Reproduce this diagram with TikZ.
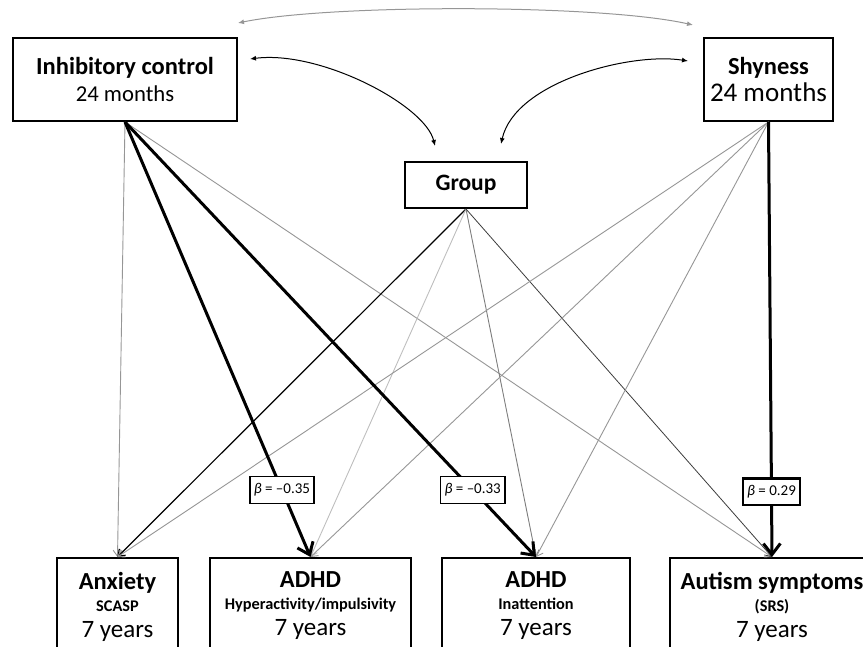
\documentclass[tikz,border=0pt]{standalone}
\usepackage{fontspec}
\setmainfont{Carlito}
\usetikzlibrary{arrows.meta,positioning}
\definecolor{pathgrey}{RGB}{150,150,150}
\definecolor{pathlight}{RGB}{190,190,190}
\definecolor{pathmid}{RGB}{125,125,125}
\definecolor{pathdark}{RGB}{60,60,60}
\tikzset{
  predbox/.style={rectangle, draw=black, line width=2pt, fill=white, align=center,
                  inner sep=0pt, font=\fontsize{24.5}{27}\selectfont},
  outbox/.style ={rectangle, draw=black, line width=2pt, fill=white, align=center,
                  anchor=north, inner xsep=0pt, inner ysep=14pt,
                  font=\fontsize{24.5}{22}\selectfont},
  gpath/.style  ={-{Straight Barb[length=6pt,width=9pt]}, line width=0.9pt, pathgrey},
  bpath/.style  ={-{Straight Barb[length=11pt,width=17pt]}, line width=3pt, black},
  betabox/.style={rectangle, draw=black, line width=1.6pt, fill=white, inner xsep=4pt,
                  inner ysep=7pt, font=\fontsize{15}{16}\selectfont},
  corr/.style   ={{Latex[length=6pt,width=5pt]}-{Latex[length=6pt,width=5pt]}, line width=1pt},
}
\newcommand{\smalllab}[1]{{\fontsize{16.3}{16}\selectfont\bfseries #1}}
\newcommand{\yearlab}[1]{{\fontsize{25}{26}\selectfont #1}}

\begin{document}
\begin{tikzpicture}[x=1pt,y=-1pt]
  \useasboundingbox (0,0) rectangle (863,647);
  \clip (0,0) rectangle (863,647);
  \node[predbox, minimum width=224pt, minimum height=83pt] (ic) at (125,79.5)
    {\textbf{Inhibitory control}\\{\fontsize{22.7}{27}\selectfont 24 months}};
  \node[predbox, minimum width=129pt, minimum height=83pt] (shy) at (768.5,79.5)
    {\textbf{Shyness}\\{\fontsize{27}{27}\selectfont 24 months}};
  \node[predbox, minimum width=122pt, minimum height=46pt, font=\fontsize{23.5}{27}\selectfont] (grp) at (466,185)
    {\textbf{Group}};
  \node[outbox, minimum width=121pt] (anx) at (117.5,557)
    {\textbf{Anxiety}\\\smalllab{SCASP}\\[4pt]\yearlab{7 years}};
  \node[outbox, minimum width=201pt] (hyp) at (310.5,557)
    {\textbf{ADHD}\\\smalllab{Hyperactivity/impulsivity}\\[4pt]\yearlab{7 years}};
  \node[outbox, minimum width=188pt] (ina) at (536,557)
    {\textbf{ADHD}\\\smalllab{Inattention}\\[4pt]\yearlab{7 years}};
  \node[outbox, minimum width=204pt] (aut) at (772,557)
    {\textbf{Autism symptoms}\\\smalllab{(SRS)}\\[4pt]\yearlab{7 years}};

  \coordinate (icr) at (238,23);
  \coordinate (shl) at (693,25);
  \coordinate (icg) at (250,59);
  \coordinate (gil) at (435,146);
  \coordinate (shg) at (688,61);
  \coordinate (gsr) at (501,144);
  \draw[corr, pathgrey] (icr) .. controls (330,4) and (600,4) .. (shl);
  \draw[corr] (icg) .. controls (320,50) and (425,105) .. (gil);
  \draw[corr] (shg) .. controls (630,52) and (515,82) .. (gsr);

  \draw[gpath] (ic.south) -- (anx.north);
  \draw[gpath] (ic.south) -- (aut.north);
  \draw[gpath, black, line width=1.2pt] (grp.south) -- (anx.north);
  \draw[gpath, pathlight] (grp.south) -- (hyp.north);
  \draw[gpath, pathmid] (grp.south) -- (ina.north);
  \draw[gpath, pathdark, line width=0.8pt] (grp.south) -- (aut.north);
  \draw[gpath] (shy.south) -- (anx.north);
  \draw[gpath] (shy.south) -- (hyp.north);
  \draw[gpath] (shy.south) -- (ina.north);

  \draw[bpath] (ic.south) -- node[betabox, pos=0.846] (b1) {\textit{β} = --0.35} (hyp.north);
  \draw[bpath] (ic.south) -- node[betabox, pos=0.846] (b2) {\textit{β} = --0.33} (ina.north);
  \draw[bpath] (shy.south) -- node[betabox, pos=0.85, line width=2.6pt] (b3) {\textit{β} = 0.29} (aut.north);
\end{tikzpicture}
\end{document}
